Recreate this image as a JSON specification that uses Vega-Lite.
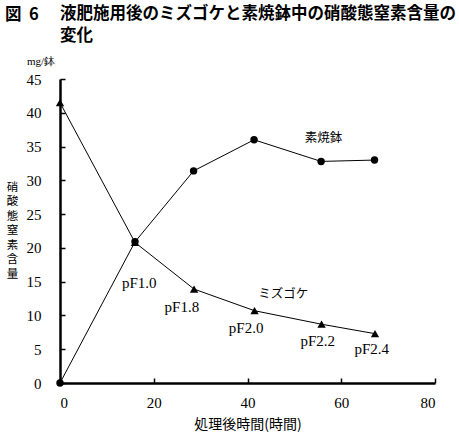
{
  "$schema": "https://vega.github.io/schema/vega-lite/v6.json",
  "width": 375,
  "height": 304,
  "autosize": {"type": "none"},
  "padding": {"left": 60, "top": 79, "right": 24, "bottom": 54},
  "title": {
    "text": ["液肥施用後のミズゴケと素焼鉢中の硝酸態窒素含量の", "変化"],
    "anchor": "start",
    "frame": "group",
    "offset": -37,
    "font": "Noto Sans CJK JP",
    "fontSize": 16.5,
    "fontWeight": "bold",
    "lineHeight": 22,
    "color": "black"
  },
  "datasets": {
    "series": [
      {"series": "素焼鉢", "time": 0, "value": 0},
      {"series": "素焼鉢", "time": 16, "value": 20.9},
      {"series": "素焼鉢", "time": 28.5, "value": 31.4},
      {"series": "素焼鉢", "time": 41.4, "value": 36.0},
      {"series": "素焼鉢", "time": 55.7, "value": 32.8},
      {"series": "素焼鉢", "time": 67.1, "value": 33.0},
      {"series": "ミズゴケ", "time": 0, "value": 41.5},
      {"series": "ミズゴケ", "time": 16, "value": 20.8},
      {"series": "ミズゴケ", "time": 28.6, "value": 13.9},
      {"series": "ミズゴケ", "time": 41.5, "value": 10.7},
      {"series": "ミズゴケ", "time": 55.8, "value": 8.7},
      {"series": "ミズゴケ", "time": 67.2, "value": 7.3}
    ],
    "labels": [
      {"label": "pF1.0", "time": 16.9, "value": 14.8, "kind": "pf"},
      {"label": "pF1.8", "time": 26.0, "value": 11.3, "kind": "pf"},
      {"label": "pF2.0", "time": 39.7, "value": 8.1, "kind": "pf"},
      {"label": "pF2.2", "time": 55.0, "value": 6.2, "kind": "pf"},
      {"label": "pF2.4", "time": 66.5, "value": 5.1, "kind": "pf"},
      {"label": "ミズゴケ", "time": 47.6, "value": 13.2, "kind": "name"},
      {"label": "素焼鉢", "time": 56.2, "value": 36.2, "kind": "name"}
    ],
    "corner": [{"unit": "mg/鉢", "fig": "図\u00a0 6", "time": 0, "value": 45}]
  },
  "encoding": {
    "x": {
      "field": "time",
      "type": "quantitative",
      "scale": {"domain": [0, 80], "nice": false},
      "axis": {
        "values": [0, 20, 40, 60, 80],
        "labelOverlap": false,
        "title": "処理後時間(時間)",
        "titlePadding": 7
      }
    },
    "y": {
      "field": "value",
      "type": "quantitative",
      "scale": {"domain": [0, 45], "nice": false},
      "axis": {
        "values": [0, 5, 10, 15, 20, 25, 30, 35, 40, 45],
        "labelOverlap": false,
        "labelFlush": false,
        "title": ["硝", "酸", "態", "窒", "素", "含", "量"],
        "titleAngle": 0,
        "titleX": -48,
        "titleY": 102,
        "titleAlign": "center",
        "titleBaseline": "top",
        "titleFontSize": 11.5,
        "titleLineHeight": 14.5
      }
    }
  },
  "layer": [
    {
      "data": {"name": "series"},
      "mark": {"type": "line", "color": "black", "strokeWidth": 1},
      "encoding": {"detail": {"field": "series"}}
    },
    {
      "data": {"name": "series"},
      "transform": [{"filter": "datum.series == '素焼鉢'"}],
      "mark": {"type": "point", "shape": "circle", "filled": true, "color": "black", "size": 55, "opacity": 1}
    },
    {
      "data": {"name": "series"},
      "transform": [{"filter": "datum.series == 'ミズゴケ'"}],
      "mark": {"type": "point", "shape": "triangle-up", "filled": true, "color": "black", "size": 70, "opacity": 1}
    },
    {
      "data": {"name": "labels"},
      "transform": [{"filter": "datum.kind == 'pf'"}],
      "mark": {"type": "text", "font": "Liberation Serif", "fontSize": 15, "color": "black"},
      "encoding": {"text": {"field": "label"}}
    },
    {
      "data": {"name": "labels"},
      "transform": [{"filter": "datum.kind == 'name'"}],
      "mark": {"type": "text", "font": "Noto Sans CJK JP", "fontSize": 12.5, "color": "black"},
      "encoding": {"text": {"field": "label"}}
    },
    {
      "data": {"name": "corner"},
      "mark": {"type": "text", "font": "Liberation Serif", "fontSize": 11, "align": "left", "dx": -33, "dy": -17, "color": "black"},
      "encoding": {"text": {"field": "unit"}}
    },
    {
      "data": {"name": "corner"},
      "mark": {"type": "text", "font": "Noto Sans CJK JP", "fontSize": 16.5, "fontWeight": "bold", "align": "left", "dx": -55, "dy": -64, "color": "black"},
      "encoding": {"text": {"field": "fig"}}
    }
  ],
  "config": {
    "view": {"stroke": null},
    "axis": {
      "grid": false,
      "domainColor": "black",
      "domainWidth": 2.5,
      "tickColor": "black",
      "tickWidth": 1.5,
      "tickSize": -5,
      "labelFont": "Liberation Serif",
      "labelFontSize": 15,
      "labelColor": "black",
      "labelOverlap": false,
      "titleFont": "Noto Sans CJK JP",
      "titleFontSize": 14,
      "titleFontWeight": "normal",
      "titleColor": "black"
    },
    "axisX": {"labelPadding": 17},
    "axisY": {"labelPadding": 24}
  }
}
